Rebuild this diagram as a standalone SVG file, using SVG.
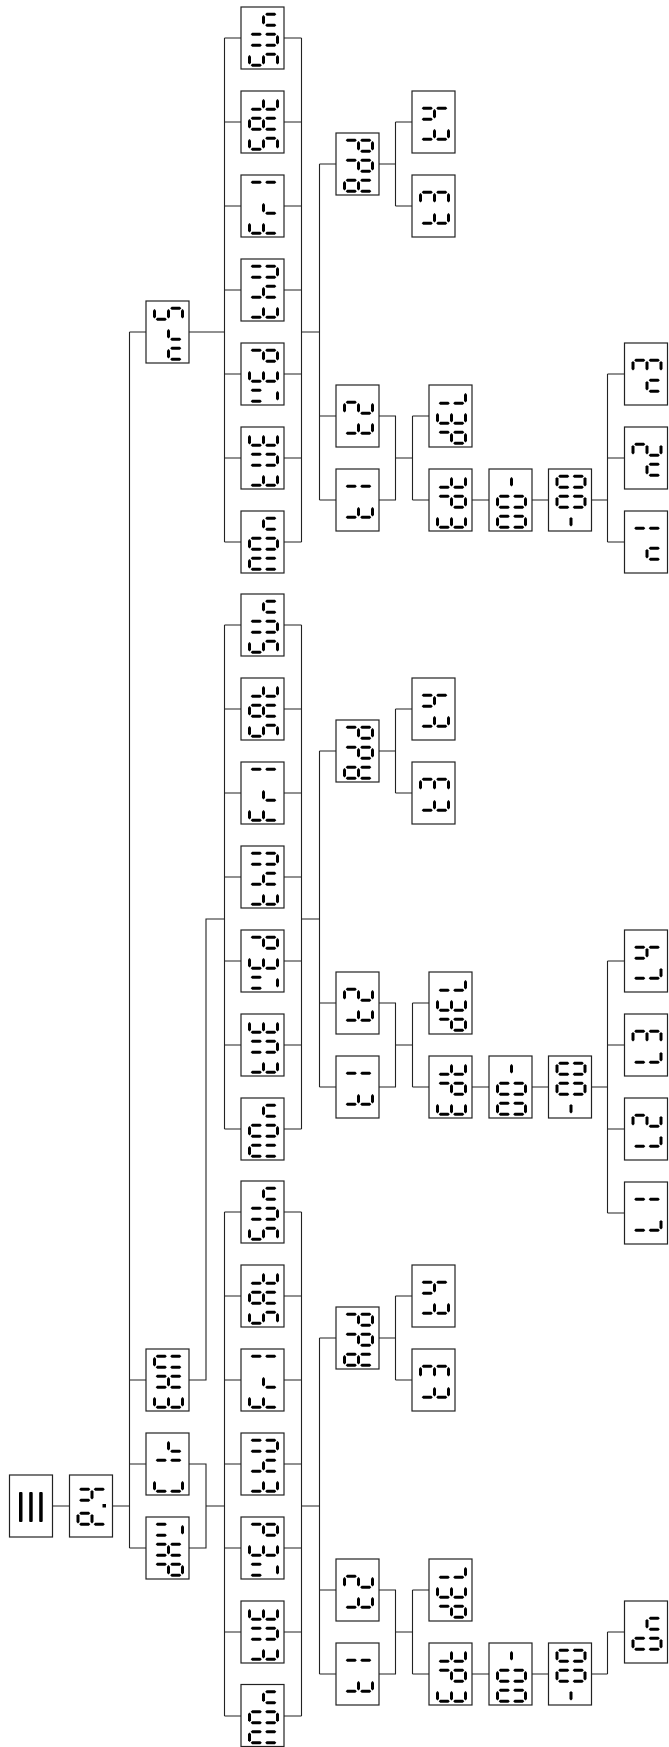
<svg xmlns="http://www.w3.org/2000/svg" width="669" height="1747" viewBox="0 0 669 1747">
<style>
.bx{fill:#fff;stroke:#222;stroke-width:1.2}
.ln{fill:none;stroke:#222;stroke-width:1.1}
.seg{fill:#000}
</style>
<defs>
<polygon id="sL" class="seg" points="1.5,2.1 3,3.6 3,9.9 1.5,11.4 0,9.9 0,3.6"/>
<polygon id="sM" class="seg" points="15.5,2.1 17,3.6 17,9.9 15.5,11.4 14,9.9 14,3.6"/>
<polygon id="sR" class="seg" points="29.5,2.1 31,3.6 31,9.9 29.5,11.4 28,9.9 28,3.6"/>
<polygon id="sTL" class="seg" points="2.7,1.3 4.2,-0.2 12.3,-0.2 13.8,1.3 12.3,2.8 4.2,2.8"/>
<polygon id="sTR" class="seg" points="17.2,1.3 18.7,-0.2 26.8,-0.2 28.3,1.3 26.8,2.8 18.7,2.8"/>
<polygon id="sBL" class="seg" points="2.7,12.2 4.2,10.7 12.3,10.7 13.8,12.2 12.3,13.7 4.2,13.7"/>
<polygon id="sBR" class="seg" points="17.2,12.2 18.7,10.7 26.8,10.7 28.3,12.2 26.8,13.7 18.7,13.7"/>
<g id="c-n"><use href="#sM"/><use href="#sTR"/><use href="#sBR"/></g>
<g id="c-U"><use href="#sTL"/><use href="#sTR"/><use href="#sR"/><use href="#sBR"/><use href="#sBL"/></g>
<g id="c-S"><use href="#sL"/><use href="#sBL"/><use href="#sM"/><use href="#sTR"/><use href="#sR"/></g>
<g id="c-t"><use href="#sR"/><use href="#sBR"/><use href="#sBL"/><use href="#sM"/></g>
<g id="c-A"><use href="#sL"/><use href="#sTL"/><use href="#sTR"/><use href="#sBR"/><use href="#sBL"/><use href="#sM"/></g>
<g id="c-1"><use href="#sTL"/><use href="#sTR"/></g>
<g id="c-r"><use href="#sM"/><use href="#sBR"/></g>
<g id="c-F"><use href="#sL"/><use href="#sBR"/><use href="#sBL"/><use href="#sM"/></g>
<g id="c-H"><use href="#sTL"/><use href="#sTR"/><use href="#sBR"/><use href="#sBL"/><use href="#sM"/></g>
<g id="c-h"><use href="#sTR"/><use href="#sBR"/><use href="#sBL"/><use href="#sM"/></g>
<g id="c-d"><use href="#sTL"/><use href="#sTR"/><use href="#sM"/><use href="#sR"/><use href="#sBR"/></g>
<g id="c-E"><use href="#sL"/><use href="#sR"/><use href="#sBR"/><use href="#sBL"/><use href="#sM"/></g>
<g id="c-W"><use href="#sTL"/><use href="#sBL"/><use href="#sR"/></g>
<g id="c-0"><use href="#sL"/><use href="#sTL"/><use href="#sTR"/><use href="#sR"/><use href="#sBR"/><use href="#sBL"/></g>
<g id="c-M"><use href="#sL"/><use href="#sTL"/><use href="#sTR"/><use href="#sBR"/><use href="#sBL"/></g>
<g id="c-C"><use href="#sL"/><use href="#sR"/><use href="#sBR"/><use href="#sBL"/></g>
<g id="c-4"><use href="#sBL"/><use href="#sM"/><use href="#sTL"/><use href="#sTR"/></g>
<g id="c-2"><use href="#sL"/><use href="#sTL"/><use href="#sM"/><use href="#sBR"/><use href="#sR"/></g>
<g id="c-3"><use href="#sL"/><use href="#sTL"/><use href="#sM"/><use href="#sTR"/><use href="#sR"/></g>
<g id="c-L"><use href="#sR"/><use href="#sBR"/><use href="#sBL"/></g>
<g id="c-P"><use href="#sL"/><use href="#sTL"/><use href="#sBR"/><use href="#sBL"/><use href="#sM"/></g>
<g id="c-dash"><use href="#sM"/></g>
<g id="t-sun"><use href="#c-n" x="7" y="6"/><use href="#c-U" x="7" y="26"/><use href="#c-S" x="7" y="46"/></g>
<g id="t-sat"><use href="#c-t" x="7" y="6"/><use href="#c-A" x="7" y="26"/><use href="#c-S" x="7" y="46"/></g>
<g id="t-fri"><use href="#c-1" x="7" y="6"/><use href="#c-r" x="7" y="26"/><use href="#c-F" x="7" y="46"/></g>
<g id="t-thu"><use href="#c-U" x="7" y="6"/><use href="#c-h" x="7" y="26"/><use href="#c-t" x="7" y="46"/></g>
<g id="t-wed"><use href="#c-d" x="7" y="6"/><use href="#c-E" x="7" y="26"/><use href="#c-W" x="7" y="46"/></g>
<g id="t-tue"><use href="#c-E" x="7" y="6"/><use href="#c-U" x="7" y="26"/><use href="#c-t" x="7" y="46"/></g>
<g id="t-mon"><use href="#c-n" x="7" y="6"/><use href="#c-0" x="7" y="26"/><use href="#c-M" x="7" y="46"/></g>
<g id="t-add"><use href="#c-d" x="7" y="6"/><use href="#c-d" x="7" y="26"/><use href="#c-A" x="7" y="46"/></g>
<g id="t-t4"><use href="#c-4" x="7" y="16"/><use href="#c-t" x="7" y="36"/></g>
<g id="t-t3"><use href="#c-3" x="7" y="16"/><use href="#c-t" x="7" y="36"/></g>
<g id="t-t2"><use href="#c-2" x="7" y="16"/><use href="#c-t" x="7" y="36"/></g>
<g id="t-t1"><use href="#c-1" x="7" y="16"/><use href="#c-t" x="7" y="36"/></g>
<g id="t-del"><use href="#c-L" x="7" y="6"/><use href="#c-E" x="7" y="26"/><use href="#c-d" x="7" y="46"/></g>
<g id="t-edt"><use href="#c-t" x="7" y="6"/><use href="#c-d" x="7" y="26"/><use href="#c-E" x="7" y="46"/></g>
<g id="t-k1"><use href="#c-dash" x="7" y="6"/><use href="#c-0" x="7" y="26"/><use href="#c-0" x="7" y="46"/></g>
<g id="t-k2"><use href="#c-0" x="7" y="6"/><use href="#c-0" x="7" y="26"/><use href="#c-dash" x="7" y="46"/></g>
<g id="t-n3"><use href="#c-3" x="7" y="16"/><use href="#c-n" x="7" y="36"/></g>
<g id="t-n2"><use href="#c-2" x="7" y="16"/><use href="#c-n" x="7" y="36"/></g>
<g id="t-n1"><use href="#c-1" x="7" y="16"/><use href="#c-n" x="7" y="36"/></g>
<g id="t-l4"><use href="#c-4" x="7" y="16"/><use href="#c-L" x="7" y="36"/></g>
<g id="t-l3"><use href="#c-3" x="7" y="16"/><use href="#c-L" x="7" y="36"/></g>
<g id="t-l2"><use href="#c-2" x="7" y="16"/><use href="#c-L" x="7" y="36"/></g>
<g id="t-l1"><use href="#c-1" x="7" y="16"/><use href="#c-L" x="7" y="36"/></g>
<g id="t-on"><use href="#c-n" x="7" y="16"/><use href="#c-0" x="7" y="36"/></g>
</defs>
<rect width="669" height="1747" fill="#fff"/>
<g id="connectors" class="ln">
<path d="M52.5 1506H69.5M112.5 1506H129.5M129.5 332V1548M129.5 332H146M129.5 1380H146M129.5 1464H146M129.5 1548H146M189 332H224.5M189 1380H206V919H224.5M189 1464H206V1548H189M206 1506H224.5"/>
<path d="M224.5 38V542M224.5 38H241M224.5 122H241M224.5 206H241M224.5 290H241M224.5 374H241M224.5 458H241M224.5 542H241M284 38H301.5M284 122H301.5M284 206H301.5M284 290H301.5M284 374H301.5M284 458H301.5M284 542H301.5M301.5 38V542M301.5 332H319.5M319.5 164V500M319.5 164H336M319.5 416H336M319.5 500H336M379 164H395.5M395.5 122V206M395.5 122H412M395.5 206H412M379 416H395.5V500H379M395.5 458H412.5M412.5 416V500M412.5 416H429M412.5 500H429M472 500H489M532 500H548.5M591.5 500H607.5M607.5 374V542M607.5 374H624.5M607.5 458H624.5M607.5 542H624.5"/>
<path d="M224.5 625V1129M224.5 625H241M224.5 709H241M224.5 793H241M224.5 877H241M224.5 961H241M224.5 1045H241M224.5 1129H241M284 625H301.5M284 709H301.5M284 793H301.5M284 877H301.5M284 961H301.5M284 1045H301.5M284 1129H301.5M301.5 625V1129M301.5 919H319.5M319.5 751V1087M319.5 751H336M319.5 1003H336M319.5 1087H336M379 751H395.5M395.5 709V793M395.5 709H412M395.5 793H412M379 1003H395.5V1087H379M395.5 1045H412.5M412.5 1003V1087M412.5 1003H429M412.5 1087H429M472 1087H489M532 1087H548.5M591.5 1087H607.5M607.5 961V1213M607.5 961H624.5M607.5 1045H624.5M607.5 1129H624.5M607.5 1213H624.5"/>
<path d="M224.5 1212V1716M224.5 1212H241M224.5 1296H241M224.5 1380H241M224.5 1464H241M224.5 1548H241M224.5 1632H241M224.5 1716H241M284 1212H301.5M284 1296H301.5M284 1380H301.5M284 1464H301.5M284 1548H301.5M284 1632H301.5M284 1716H301.5M301.5 1212V1716M301.5 1506H319.5M319.5 1338V1674M319.5 1338H336M319.5 1590H336M319.5 1674H336M379 1338H395.5M395.5 1296V1380M395.5 1296H412M395.5 1380H412M379 1590H395.5V1674H379M395.5 1632H412.5M412.5 1590V1674M412.5 1590H429M412.5 1674H429M472 1674H489M532 1674H548.5M591.5 1674H607.5M607.5 1632V1674M607.5 1632H624.5"/>
</g>
<g id="root"><rect class="bx" x="9.5" y="1475" width="43" height="62"/><rect class="seg" x="19" y="1492" width="3.5" height="30" rx="1"/><rect class="seg" x="29.2" y="1492" width="3.5" height="30" rx="1"/><rect class="seg" x="39.2" y="1492" width="3.5" height="30" rx="1"/></g>
<g id="menu"><rect class="bx" x="69.5" y="1475" width="43" height="62"/><use href="#c-4" x="76.5" y="1488"/><use href="#c-P" x="76.5" y="1512"/><rect class="seg" x="102.5" y="1504" width="3.5" height="3.5"/></g>
<g id="l2-top"><rect class="bx" x="146" y="301" width="43" height="62"/><use href="#c-S" x="153" y="307"/><use href="#c-r" x="153" y="327"/><use href="#c-n" x="153" y="347"/></g>
<g id="l2-a"><rect class="bx" x="146" y="1349" width="43" height="62"/><use href="#c-M" x="153" y="1355"/><use href="#c-H" x="153" y="1375"/><use href="#c-E" x="153" y="1395"/></g>
<g id="l2-b"><rect class="bx" x="146" y="1433" width="43" height="62"/><use href="#c-r" x="153" y="1439"/><use href="#c-1" x="153" y="1459"/><use href="#c-C" x="153" y="1479"/></g>
<g id="l2-c"><rect class="bx" x="146" y="1517" width="43" height="62"/><use href="#c-W" x="153" y="1523"/><use href="#c-H" x="153" y="1543"/><use href="#c-d" x="153" y="1563"/></g>
<g id="s1-sun"><rect class="bx" x="241" y="7" width="43" height="62"/><use href="#t-sun" x="241" y="7"/></g>
<g id="s1-sat"><rect class="bx" x="241" y="91" width="43" height="62"/><use href="#t-sat" x="241" y="91"/></g>
<g id="s1-fri"><rect class="bx" x="241" y="175" width="43" height="62"/><use href="#t-fri" x="241" y="175"/></g>
<g id="s1-thu"><rect class="bx" x="241" y="259" width="43" height="62"/><use href="#t-thu" x="241" y="259"/></g>
<g id="s1-wed"><rect class="bx" x="241" y="343" width="43" height="62"/><use href="#t-wed" x="241" y="343"/></g>
<g id="s1-tue"><rect class="bx" x="241" y="427" width="43" height="62"/><use href="#t-tue" x="241" y="427"/></g>
<g id="s1-mon"><rect class="bx" x="241" y="511" width="43" height="62"/><use href="#t-mon" x="241" y="511"/></g>
<g id="s1-add"><rect class="bx" x="336" y="133" width="43" height="62"/><use href="#t-add" x="336" y="133"/></g>
<g id="s1-t4"><rect class="bx" x="412" y="91" width="43" height="62"/><use href="#t-t4" x="412" y="91"/></g>
<g id="s1-t3"><rect class="bx" x="412" y="175" width="43" height="62"/><use href="#t-t3" x="412" y="175"/></g>
<g id="s1-t2"><rect class="bx" x="336" y="385" width="43" height="62"/><use href="#t-t2" x="336" y="385"/></g>
<g id="s1-t1"><rect class="bx" x="336" y="469" width="43" height="62"/><use href="#t-t1" x="336" y="469"/></g>
<g id="s1-del"><rect class="bx" x="429" y="385" width="43" height="62"/><use href="#t-del" x="429" y="385"/></g>
<g id="s1-edt"><rect class="bx" x="429" y="469" width="43" height="62"/><use href="#t-edt" x="429" y="469"/></g>
<g id="s1-k1"><rect class="bx" x="489" y="469" width="43" height="62"/><use href="#t-k1" x="489" y="469"/></g>
<g id="s1-k2"><rect class="bx" x="548.5" y="469" width="43" height="62"/><use href="#t-k2" x="548.5" y="469"/></g>
<g id="s1-e3"><rect class="bx" x="624.5" y="343" width="43" height="62"/><use href="#t-n3" x="624.5" y="343"/></g>
<g id="s1-e2"><rect class="bx" x="624.5" y="427" width="43" height="62"/><use href="#t-n2" x="624.5" y="427"/></g>
<g id="s1-e1"><rect class="bx" x="624.5" y="511" width="43" height="62"/><use href="#t-n1" x="624.5" y="511"/></g>
<g id="s2-sun"><rect class="bx" x="241" y="594" width="43" height="62"/><use href="#t-sun" x="241" y="594"/></g>
<g id="s2-sat"><rect class="bx" x="241" y="678" width="43" height="62"/><use href="#t-sat" x="241" y="678"/></g>
<g id="s2-fri"><rect class="bx" x="241" y="762" width="43" height="62"/><use href="#t-fri" x="241" y="762"/></g>
<g id="s2-thu"><rect class="bx" x="241" y="846" width="43" height="62"/><use href="#t-thu" x="241" y="846"/></g>
<g id="s2-wed"><rect class="bx" x="241" y="930" width="43" height="62"/><use href="#t-wed" x="241" y="930"/></g>
<g id="s2-tue"><rect class="bx" x="241" y="1014" width="43" height="62"/><use href="#t-tue" x="241" y="1014"/></g>
<g id="s2-mon"><rect class="bx" x="241" y="1098" width="43" height="62"/><use href="#t-mon" x="241" y="1098"/></g>
<g id="s2-add"><rect class="bx" x="336" y="720" width="43" height="62"/><use href="#t-add" x="336" y="720"/></g>
<g id="s2-t4"><rect class="bx" x="412" y="678" width="43" height="62"/><use href="#t-t4" x="412" y="678"/></g>
<g id="s2-t3"><rect class="bx" x="412" y="762" width="43" height="62"/><use href="#t-t3" x="412" y="762"/></g>
<g id="s2-t2"><rect class="bx" x="336" y="972" width="43" height="62"/><use href="#t-t2" x="336" y="972"/></g>
<g id="s2-t1"><rect class="bx" x="336" y="1056" width="43" height="62"/><use href="#t-t1" x="336" y="1056"/></g>
<g id="s2-del"><rect class="bx" x="429" y="972" width="43" height="62"/><use href="#t-del" x="429" y="972"/></g>
<g id="s2-edt"><rect class="bx" x="429" y="1056" width="43" height="62"/><use href="#t-edt" x="429" y="1056"/></g>
<g id="s2-k1"><rect class="bx" x="489" y="1056" width="43" height="62"/><use href="#t-k1" x="489" y="1056"/></g>
<g id="s2-k2"><rect class="bx" x="548.5" y="1056" width="43" height="62"/><use href="#t-k2" x="548.5" y="1056"/></g>
<g id="s2-e4"><rect class="bx" x="624.5" y="930" width="43" height="62"/><use href="#t-l4" x="624.5" y="930"/></g>
<g id="s2-e3"><rect class="bx" x="624.5" y="1014" width="43" height="62"/><use href="#t-l3" x="624.5" y="1014"/></g>
<g id="s2-e2"><rect class="bx" x="624.5" y="1098" width="43" height="62"/><use href="#t-l2" x="624.5" y="1098"/></g>
<g id="s2-e1"><rect class="bx" x="624.5" y="1182" width="43" height="62"/><use href="#t-l1" x="624.5" y="1182"/></g>
<g id="s3-sun"><rect class="bx" x="241" y="1181" width="43" height="62"/><use href="#t-sun" x="241" y="1181"/></g>
<g id="s3-sat"><rect class="bx" x="241" y="1265" width="43" height="62"/><use href="#t-sat" x="241" y="1265"/></g>
<g id="s3-fri"><rect class="bx" x="241" y="1349" width="43" height="62"/><use href="#t-fri" x="241" y="1349"/></g>
<g id="s3-thu"><rect class="bx" x="241" y="1433" width="43" height="62"/><use href="#t-thu" x="241" y="1433"/></g>
<g id="s3-wed"><rect class="bx" x="241" y="1517" width="43" height="62"/><use href="#t-wed" x="241" y="1517"/></g>
<g id="s3-tue"><rect class="bx" x="241" y="1601" width="43" height="62"/><use href="#t-tue" x="241" y="1601"/></g>
<g id="s3-mon"><rect class="bx" x="241" y="1684.5" width="43" height="62"/><use href="#t-mon" x="241" y="1684.5"/></g>
<g id="s3-add"><rect class="bx" x="336" y="1307" width="43" height="62"/><use href="#t-add" x="336" y="1307"/></g>
<g id="s3-t4"><rect class="bx" x="412" y="1265" width="43" height="62"/><use href="#t-t4" x="412" y="1265"/></g>
<g id="s3-t3"><rect class="bx" x="412" y="1349" width="43" height="62"/><use href="#t-t3" x="412" y="1349"/></g>
<g id="s3-t2"><rect class="bx" x="336" y="1559" width="43" height="62"/><use href="#t-t2" x="336" y="1559"/></g>
<g id="s3-t1"><rect class="bx" x="336" y="1643" width="43" height="62"/><use href="#t-t1" x="336" y="1643"/></g>
<g id="s3-del"><rect class="bx" x="429" y="1559" width="43" height="62"/><use href="#t-del" x="429" y="1559"/></g>
<g id="s3-edt"><rect class="bx" x="429" y="1643" width="43" height="62"/><use href="#t-edt" x="429" y="1643"/></g>
<g id="s3-k1"><rect class="bx" x="489" y="1643" width="43" height="62"/><use href="#t-k1" x="489" y="1643"/></g>
<g id="s3-k2"><rect class="bx" x="548.5" y="1643" width="43" height="62"/><use href="#t-k2" x="548.5" y="1643"/></g>
<g id="s3-on"><rect class="bx" x="624.5" y="1601" width="43" height="62"/><use href="#t-on" x="624.5" y="1601"/></g>
</svg>
